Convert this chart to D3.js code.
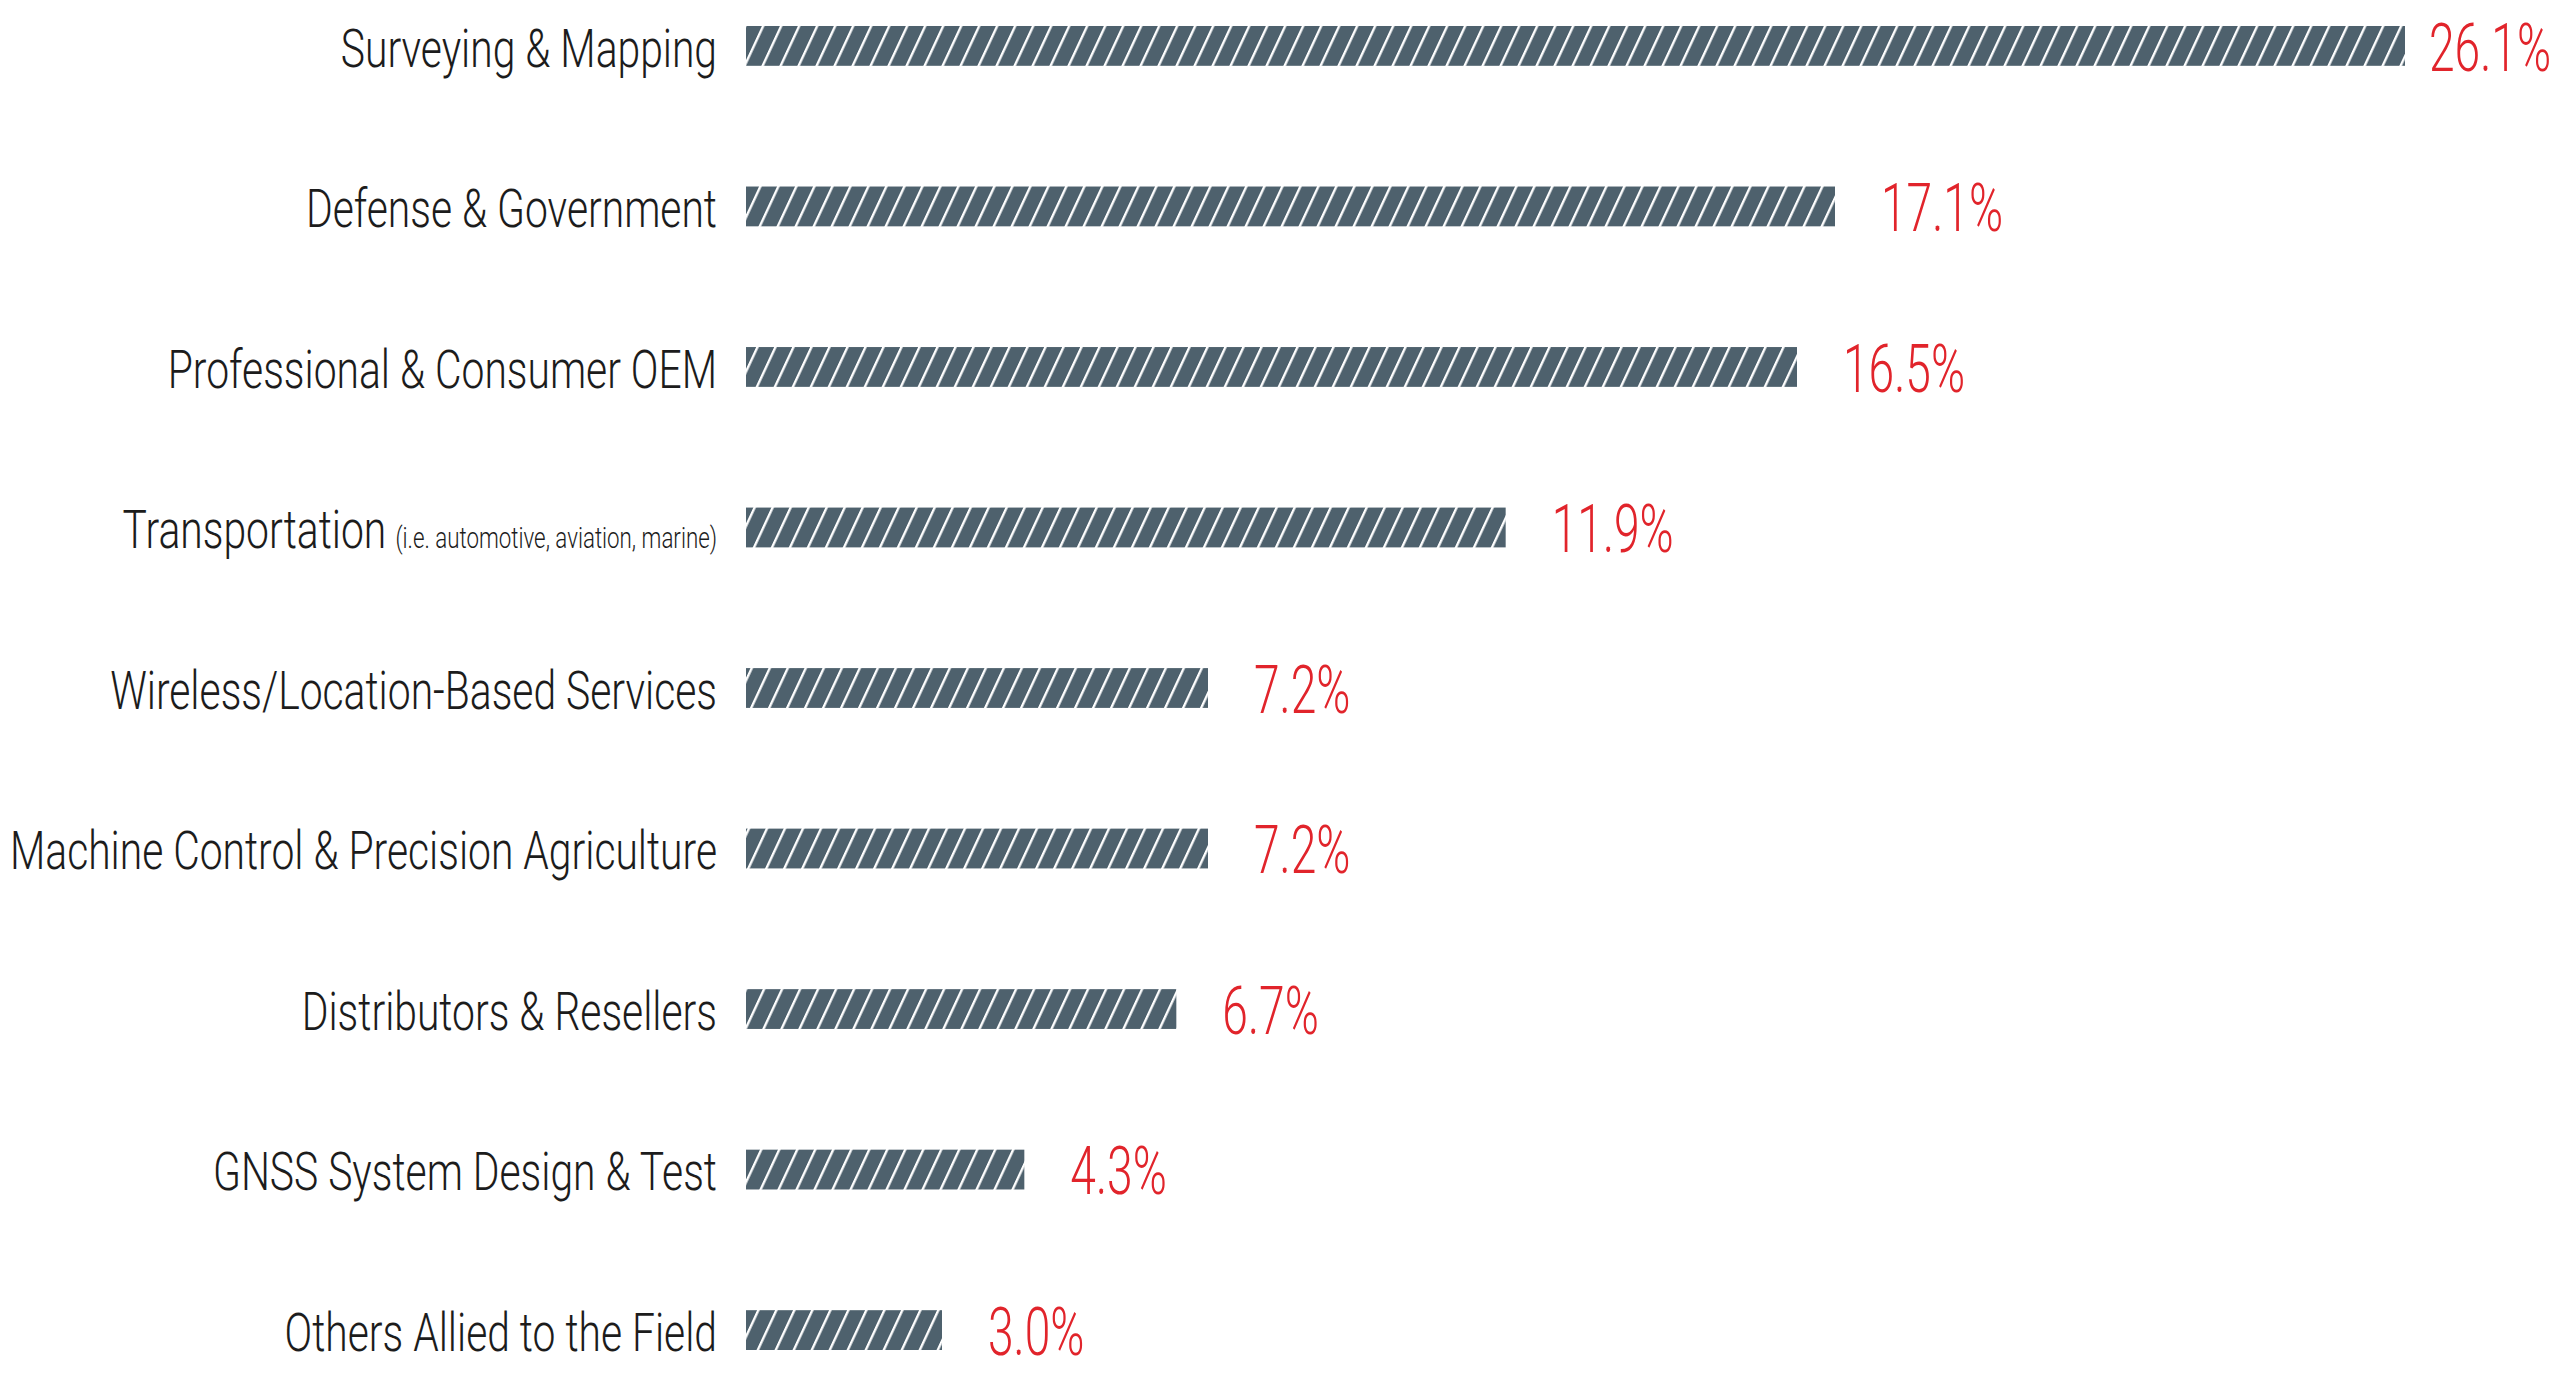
<!DOCTYPE html>
<html>
<head>
<meta charset="utf-8">
<script src="https://d3js.org/d3.v7.min.js"></script>
<style>
  html, body { margin: 0; padding: 0; background: #ffffff; }
  svg { display: block; }
</style>
</head>
<body>
<div id="chart"></div>
<script>
// market segments, top to bottom
const categories = [
    "Surveying & Mapping",
    "Defense & Government",
    "Professional & Consumer OEM",
    "Transportation",
    "Wireless/Location-Based Services",
    "Machine Control & Precision Agriculture",
    "Distributors & Resellers",
    "GNSS System Design & Test",
    "Others Allied to the Field"
];
const notes = ["", "", "", "(i.e. automotive, aviation, marine)", "", "", "", "", ""];
const shares = [26.1, 17.1, 16.5, 11.9, 7.2, 7.2, 6.7, 4.3, 3.0];

const width  = 2560;
const height = 1374;

const barColor   = "#4e616d";
const valueColor = "#e1242b";
const textColor  = "#1c1c1c";
const fontFamily = "Roboto, 'Liberation Sans Narrow', sans-serif";

const labelScale = 0.77;   // squeeze text horizontally to mimic a condensed face
const valueScale = 0.70;
const barLead    = 6;      // bars start a little left of the zero line

let svg = d3.select("#chart")
    .append("svg")
    .attr("width", width)
    .attr("height", height);

//////////////
/// Hatch  ///
//////////////

let pattern = svg.append("defs").append("pattern")
    .attr("id", "hatch")
    .attr("patternUnits", "userSpaceOnUse")
    .attr("width", 18)
    .attr("height", 10)
    .attr("patternTransform", "skewX(-25)");

pattern.append("rect")
    .attr("width", 18)
    .attr("height", 10)
    .attr("fill", barColor);

pattern.append("rect")
    .attr("x", 0)
    .attr("width", 2.6)
    .attr("height", 10)
    .attr("fill", "#ffffff");

////////////
/// Axes ///
////////////

let y = d3.scaleBand()
    .domain(categories)
    .range([26, 1350])
    .paddingInner(0.752)
    .paddingOuter(0);

let x = d3.scaleLinear()
    .domain([0, d3.max(shares)])
    .range([752, 2405]);

let rows = categories.map((c, i) => ({ name: c, note: notes[i], value: shares[i] }));

//////////////
/// Bars   ///
//////////////

svg.append("g")
    .selectAll("rect")
    .data(rows)
    .enter()
    .append("rect")
    .attr("x", x(0) - barLead)
    .attr("y", d => y(d.name))
    .attr("width", d => x(d.value) - x(0) + barLead)
    .attr("height", y.bandwidth())
    .attr("fill", "url(#hatch)");

//////////////
/// Labels ///
//////////////

let labels = svg.append("g")
    .selectAll("g")
    .data(rows)
    .enter()
    .append("g")
    .attr("transform", d => "translate(" + (x(0) - barLead - 29) + "," + (y(d.name) + y.bandwidth() + 1) + ") scale(" + labelScale + ",1)");

let labelText = labels.append("text")
    .attr("text-anchor", "end")
    .attr("fill", textColor)
    .style("font-family", fontFamily)
    .style("font-weight", 300)
    .style("font-size", "53px");

labelText.append("tspan")
    .text(d => d.name);

labelText.filter(d => d.note !== "")
    .append("tspan")
    .attr("dx", 12)
    .style("font-size", "29px")
    .text(d => d.note);

/////////////
/// Values //
/////////////

let valueY = d => y(d.name) + y.bandwidth() + 5;

let values = svg.append("g")
    .selectAll("g")
    .data(rows)
    .enter()
    .append("g");

values.append("text")
    .attr("fill", valueColor)
    .style("font-family", fontFamily)
    .style("font-weight", 300)
    .style("font-size", "66px")
    .text(d => d.value.toFixed(1) + "%");

// place after the bar end, but keep the widest label inside the frame
values.attr("transform", function (d) {
    let w = this.querySelector("text").getComputedTextLength() * valueScale;
    let left = x(d.value) + 46;
    if (left + w > width - 10) {
        left = Math.max(x(d.value) + 24, width - 10 - w);
    }
    return "translate(" + left + "," + valueY(d) + ") scale(" + valueScale + ",1)";
});
</script>
</body>
</html>
